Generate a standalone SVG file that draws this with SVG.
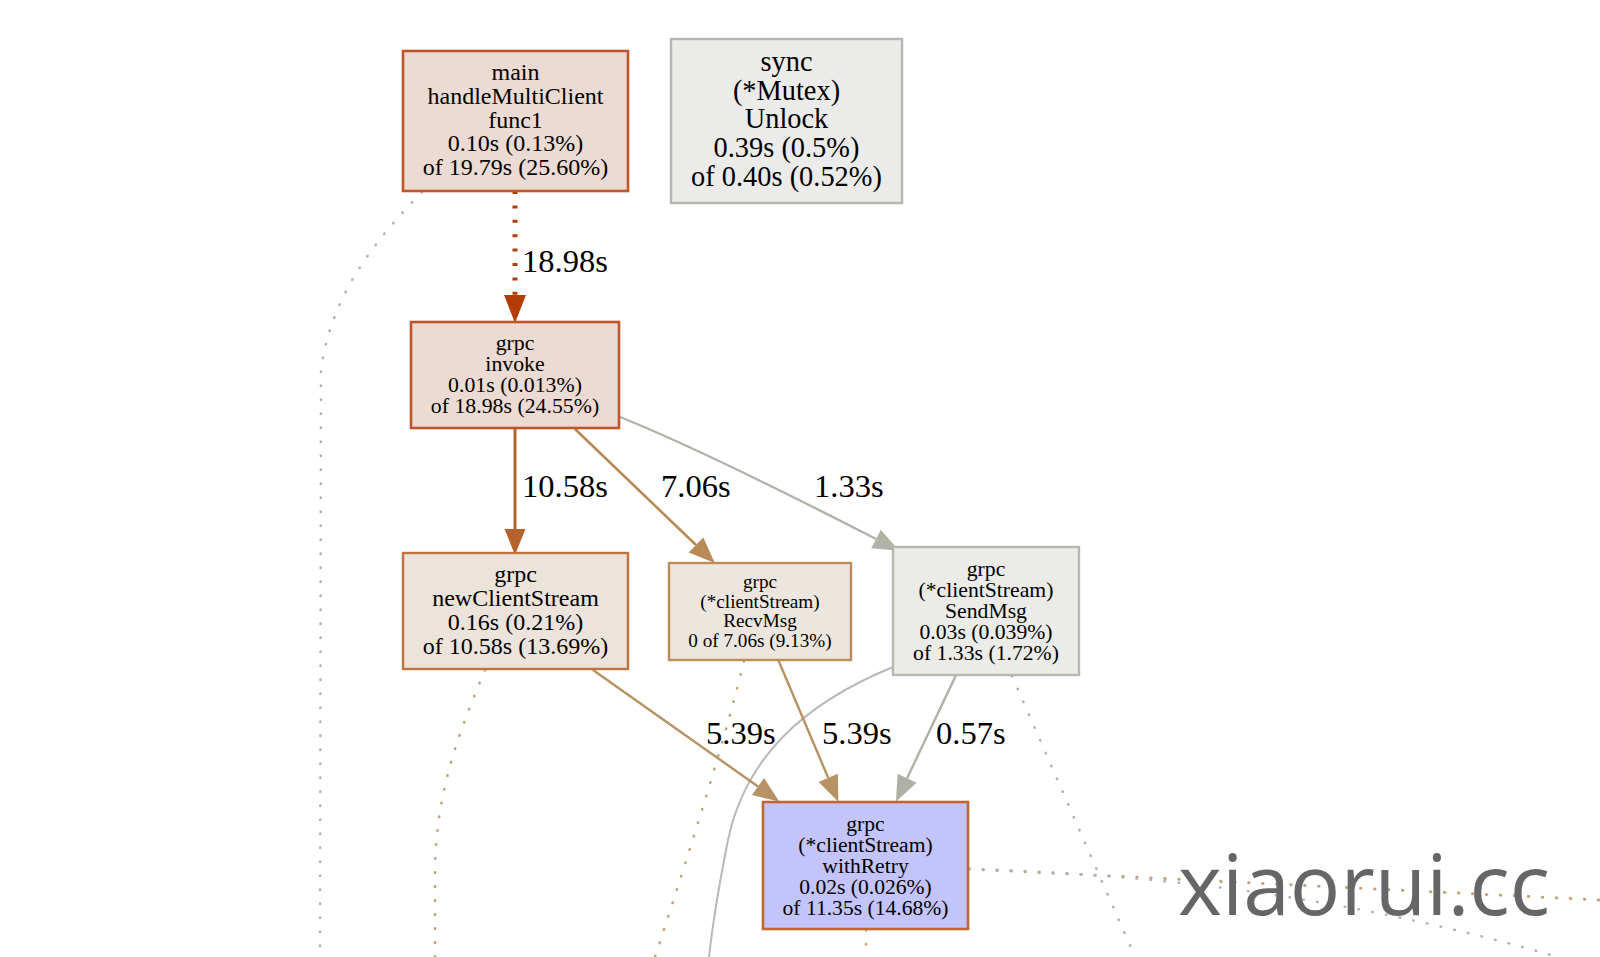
<svg xmlns="http://www.w3.org/2000/svg" width="1600" height="957" viewBox="0 0 1600 957">
<style>
  .node text { font-family: "Liberation Serif", "Times New Roman", serif; fill: #000; text-anchor: middle; }
  .lbl { font-family: "Liberation Serif", "Times New Roman", serif; font-size: 32.5px; fill: #000; }
  .e { fill: none; }
  .dot { fill: none; stroke-width: 2.6; stroke-linecap: round; stroke-dasharray: 0.5 13.5; }
  .g { stroke: #b3b3b0; }
  .t { stroke: #c0a478; }
  .wm { font-family: "Open Sans", "Noto Sans", sans-serif; font-size: 84px; fill: #666666; }
</style>
<defs>
  <marker id="a1" markerUnits="userSpaceOnUse" markerWidth="30" markerHeight="24" refX="0" refY="11" orient="auto" overflow="visible"><path d="M0,0 L28,11 L0,22 z" fill="#b43c08"/></marker>
  <marker id="a2" markerUnits="userSpaceOnUse" markerWidth="30" markerHeight="24" refX="0" refY="10.5" orient="auto" overflow="visible"><path d="M0,0 L26,10.5 L0,21 z" fill="#b5622d"/></marker>
  <marker id="a3" markerUnits="userSpaceOnUse" markerWidth="30" markerHeight="24" refX="0" refY="10.5" orient="auto" overflow="visible"><path d="M0,0 L26,10.5 L0,21 z" fill="#b88a55"/></marker>
  <marker id="a4" markerUnits="userSpaceOnUse" markerWidth="30" markerHeight="24" refX="0" refY="10.5" orient="auto" overflow="visible"><path d="M0,0 L26,10.5 L0,21 z" fill="#b3b2a9"/></marker>
  <marker id="a5" markerUnits="userSpaceOnUse" markerWidth="30" markerHeight="24" refX="0" refY="10.5" orient="auto" overflow="visible"><path d="M0,0 L26,10.5 L0,21 z" fill="#b69264"/></marker>
  <marker id="a6" markerUnits="userSpaceOnUse" markerWidth="30" markerHeight="24" refX="0" refY="10.5" orient="auto" overflow="visible"><path d="M0,0 L26,10.5 L0,21 z" fill="#aeb1a6"/></marker>
</defs>
<rect width="1600" height="957" fill="#ffffff"/>

<g id="connectors">
  <path class="dot g" d="M422,192 C370,245 330,300 321,370 L320,957"/>
  <path class="dot t" d="M485,670 C460,730 436,790 435,870 L435,957"/>
  <path class="dot t" d="M744,661 C725,740 690,850 655,957"/>
  <path class="dot g" d="M1012,676 L1135,957"/>
  <path class="dot t" d="M969,869 L1600,900" style="stroke-width:3"/>
  <path class="dot g" d="M969,869 C1150,874 1350,895 1575,962"/>
  <path class="dot t" d="M866,930 L866,957"/>
  <path class="e" d="M893,667 C800,705 745,760 728,840 C718,890 712,930 709,957" stroke="#b9b9b9" stroke-width="2"/>
  <path class="e" d="M515,191 L515,295" stroke="#b43c08" stroke-width="5" stroke-dasharray="3 11.4" marker-end="url(#a1)"/>
  <path class="e" d="M515,428 L515,529" stroke="#b5622d" stroke-width="3" marker-end="url(#a2)"/>
  <path class="e" d="M575,429 L696,545" stroke="#b88a55" stroke-width="2.6" marker-end="url(#a3)"/>
  <path class="e" d="M620,417 C690,445 800,500 876,539" stroke="#b3b2a9" stroke-width="2.4" marker-end="url(#a4)"/>
  <path class="e" d="M593,670 L758,786.5" stroke="#b69264" stroke-width="2.4" marker-end="url(#a5)"/>
  <path class="e" d="M778.6,660.7 L828.2,777.8" stroke="#b69264" stroke-width="2.4" marker-end="url(#a5)"/>
  <path class="e" d="M955.6,676 L907.1,778.2" stroke="#aeb1a6" stroke-width="2.4" marker-end="url(#a6)"/>
  <text class="lbl" x="522" y="272">18.98s</text>
  <text class="lbl" x="522" y="497">10.58s</text>
  <text class="lbl" x="661" y="497">7.06s</text>
  <text class="lbl" x="814" y="497">1.33s</text>
  <text class="lbl" x="706" y="744">5.39s</text>
  <text class="lbl" x="822" y="744">5.39s</text>
  <text class="lbl" x="936" y="744">0.57s</text>
</g>

<g id="node-main" class="node">
  <rect x="403" y="51" width="225" height="140" fill="#ecdbd3" stroke="#c1542a" stroke-width="2.6"/>
  <g font-size="24">
    <text x="515.5" y="80">main</text>
    <text x="515.5" y="103.75">handleMultiClient</text>
    <text x="515.5" y="127.5">func1</text>
    <text x="515.5" y="151.25">0.10s (0.13%)</text>
    <text x="515.5" y="175">of 19.79s (25.60%)</text>
  </g>
</g>

<g id="node-sync" class="node">
  <rect x="671" y="39" width="231" height="164" fill="#ebebe9" stroke="#b6b6b1" stroke-width="2.4"/>
  <g font-size="28.4">
    <text x="786.5" y="71">sync</text>
    <text x="786.5" y="99.7">(*Mutex)</text>
    <text x="786.5" y="128.4">Unlock</text>
    <text x="786.5" y="157.1">0.39s (0.5%)</text>
    <text x="786.5" y="185.8">of 0.40s (0.52%)</text>
  </g>
</g>

<g id="node-invoke" class="node">
  <rect x="411" y="322" width="208" height="106" fill="#ecdbd3" stroke="#c1542a" stroke-width="2.6"/>
  <g font-size="21.8">
    <text x="515" y="349.5">grpc</text>
    <text x="515" y="370.8">invoke</text>
    <text x="515" y="392">0.01s (0.013%)</text>
    <text x="515" y="413.3">of 18.98s (24.55%)</text>
  </g>
</g>

<g id="node-newClientStream" class="node">
  <rect x="403" y="553" width="225" height="116" fill="#ece3da" stroke="#c0733e" stroke-width="2.4"/>
  <g font-size="24">
    <text x="515.5" y="582">grpc</text>
    <text x="515.5" y="606">newClientStream</text>
    <text x="515.5" y="630">0.16s (0.21%)</text>
    <text x="515.5" y="654">of 10.58s (13.69%)</text>
  </g>
</g>

<g id="node-RecvMsg" class="node">
  <rect x="669" y="563" width="182" height="97" fill="#ece6df" stroke="#be8c56" stroke-width="2.4"/>
  <g font-size="19.2">
    <text x="760" y="588">grpc</text>
    <text x="760" y="607.5">(*clientStream)</text>
    <text x="760" y="627">RecvMsg</text>
    <text x="760" y="646.5">0 of 7.06s (9.13%)</text>
  </g>
</g>

<g id="node-SendMsg" class="node">
  <rect x="893" y="547" width="186" height="128" fill="#ebebe8" stroke="#b8b7b0" stroke-width="2.4"/>
  <g font-size="21.7">
    <text x="986" y="576">grpc</text>
    <text x="986" y="597">(*clientStream)</text>
    <text x="986" y="618">SendMsg</text>
    <text x="986" y="639">0.03s (0.039%)</text>
    <text x="986" y="660">of 1.33s (1.72%)</text>
  </g>
</g>

<g id="node-withRetry" class="node">
  <rect x="763" y="802" width="205" height="127" fill="#c4c4fc" stroke="#c0662f" stroke-width="2.6"/>
  <g font-size="21.6">
    <text x="865.5" y="830.5">grpc</text>
    <text x="865.5" y="851.5">(*clientStream)</text>
    <text x="865.5" y="872.5">withRetry</text>
    <text x="865.5" y="893.5">0.02s (0.026%)</text>
    <text x="865.5" y="914.5">of 11.35s (14.68%)</text>
  </g>
</g>

<text class="wm" x="1178" y="915">xiaorui.cc</text>
</svg>
